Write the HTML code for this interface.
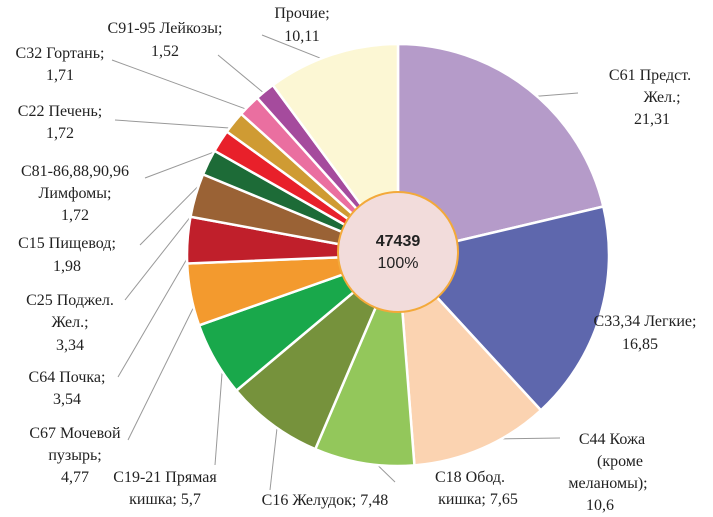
<!DOCTYPE html>
<html><head><meta charset="utf-8">
<style>
html,body{margin:0;padding:0;background:#fff;}
svg{display:block;font-family:"Liberation Serif",serif;}
</style></head>
<body>
<svg id="chart" width="713" height="517" viewBox="0 0 713 517" xmlns="http://www.w3.org/2000/svg">
<g id="leaders"></g>
<g id="slices"></g>
<g id="labels"></g>
<circle cx="398" cy="252" r="60" fill="#f2dcdb" stroke="#f3a93a" stroke-width="2"/>
<text x="398" y="246" text-anchor="middle" font-family="Liberation Sans, sans-serif" font-weight="bold" font-size="16" fill="#222">47439</text>
<text x="398" y="268" text-anchor="middle" font-family="Liberation Sans, sans-serif" font-size="16" fill="#222">100%</text>
</svg>
<script>
const categories = ["С61 Предст. Жел.","С33,34 Легкие","С44 Кожа (кроме меланомы)","С18 Обод. кишка","С16 Желудок","С19-21 Прямая кишка","С67 Мочевой пузырь","С64 Почка","С25 Поджел. Жел.","С15 Пищевод","С81-86,88,90,96 Лимфомы","С22 Печень","С32 Гортань","С91-95 Лейкозы","Прочие"];
const values = [21.31,16.85,10.6,7.65,7.48,5.7,4.77,3.54,3.34,1.98,1.72,1.72,1.71,1.52,10.11];
const valueLabels = ["21,31","16,85","10,6","7,65","7,48","5,7","4,77","3,54","3,34","1,98","1,72","1,72","1,71","1,52","10,11"];
const colors = ["#b59bc9","#5e67ad","#fbd3b1","#93c75b","#76923c","#19a84b","#f39a2e","#c01f2b","#9a6235","#1d6b37","#e8202a","#cf9b33","#ea6fa0","#a54b9d","#fcf7d4"];
const labelLines = [
 [[650,80,"С61 Предст."],[662,102,"Жел.;"],[652,124,"21,31"]],
 [[645,326,"С33,34 Легкие;"],[640,349,"16,85"]],
 [[612,444,"С44 Кожа"],[620,466,"(кроме"],[608,488,"меланомы);"],[600,510,"10,6"]],
 [[470,482,"С18 Обод."],[478,504,"кишка; 7,65"]],
 [[325,505,"С16 Желудок; 7,48"]],
 [[165,482,"С19-21 Прямая"],[165,504,"кишка; 5,7"]],
 [[75,438,"С67 Мочевой"],[75,460,"пузырь;"],[75,482,"4,77"]],
 [[67,382,"С64 Почка;"],[67,404,"3,54"]],
 [[70,305,"С25 Поджел."],[70,327,"Жел.;"],[70,350,"3,34"]],
 [[67,248,"С15 Пищевод;"],[67,271,"1,98"]],
 [[75,176,"С81-86,88,90,96"],[75,198,"Лимфомы;"],[75,220,"1,72"]],
 [[60,116,"С22 Печень;"],[60,138,"1,72"]],
 [[60,58,"С32 Гортань;"],[60,80,"1,71"]],
 [[165,33,"С91-95 Лейкозы;"],[165,56,"1,52"]],
 [[302,18,"Прочие;"],[302,41,"10,11"]]
];
const anchors = [[578,93],[596,322],[560,438],[395,482],[270,490],[215,465],[128,440],[118,377],[125,300],[140,245],[145,178],[115,120],[112,60],[218,55],[262,35]];
const cx=398, cy=255, R=211;
const NS="http://www.w3.org/2000/svg";
const total=values.reduce((a,b)=>a+b,0);
function pt(a,r){return [cx+r*Math.sin(a), cy-r*Math.cos(a)];}
let acc=0;
const gS=document.getElementById('slices'), gL=document.getElementById('leaders'), gT=document.getElementById('labels');
values.forEach((v,i)=>{
  const a0=acc/total*2*Math.PI; acc+=v; const a1=acc/total*2*Math.PI;
  const p0=pt(a0,R), p1=pt(a1,R);
  const large=(a1-a0)>Math.PI?1:0;
  const p=document.createElementNS(NS,'path');
  p.setAttribute('d',`M${cx},${cy} L${p0[0]},${p0[1]} A${R},${R} 0 ${large} 1 ${p1[0]},${p1[1]} Z`);
  p.setAttribute('fill',colors[i]); p.setAttribute('stroke','#fff'); p.setAttribute('stroke-width','2.5');
  
  
  gS.appendChild(p);
  const am=(a0+a1)/2, e=pt(am,R-10);
  const l=document.createElementNS(NS,'polyline');
  l.setAttribute('points',`${e[0]},${e[1]} ${anchors[i][0]},${anchors[i][1]}`);
  l.setAttribute('fill','none'); l.setAttribute('stroke','#999'); l.setAttribute('stroke-width','1');
  
  
  gL.appendChild(l);
  labelLines[i].forEach((ln,j)=>{
    const t=document.createElementNS(NS,'text');
    t.setAttribute('x',ln[0]); t.setAttribute('y',ln[1]);
    t.setAttribute('text-anchor','middle'); t.setAttribute('font-size','16'); t.setAttribute('fill','#222');
    t.textContent = (j===labelLines[i].length-1 && ln[2].indexOf(',')>=0 && /^\d/.test(ln[2])) ? valueLabels[i] : ln[2];
    
    
    gT.appendChild(t);
  });
});
</script>
</body></html>
